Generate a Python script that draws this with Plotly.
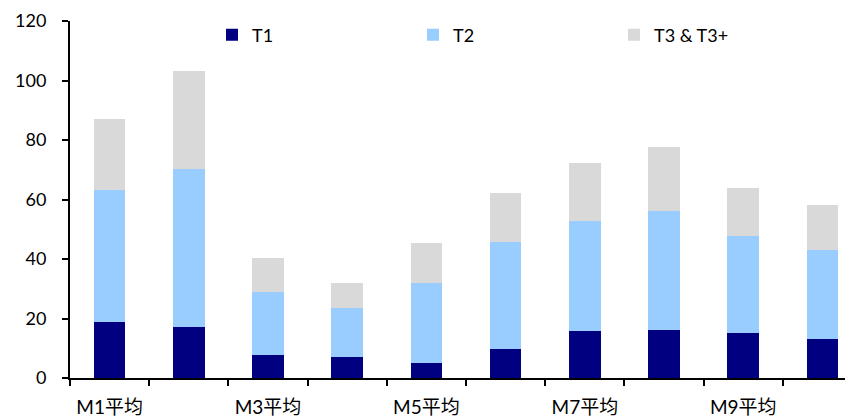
import plotly.graph_objects as go

# 读数（单位与原图一致）
categories = ["M1平均", "M2平均", "M3平均", "M4平均", "M5平均",
              "M6平均", "M7平均", "M8平均", "M9平均", "M10平均"]
tick_labels = ["M1平均", "", "M3平均", "", "M5平均", "", "M7平均", "", "M9平均", ""]
t1 = [18.7, 17.0, 7.7, 7.0, 5.0, 9.6, 15.7, 16.3, 15.1, 13.1]
t2 = [44.6, 53.1, 21.2, 16.4, 27.0, 36.0, 37.1, 39.8, 32.8, 29.8]
t3 = [23.7, 33.0, 11.5, 8.6, 13.4, 16.7, 19.5, 21.5, 15.9, 15.1]

FONT = "Lato, Noto Sans CJK SC, sans-serif"

fig = go.Figure()
for name, vals, color in [
    ("T1", t1, "#000080"),
    ("T2", t2, "#99CCFF"),
    ("T3 & T3+", t3, "#D9D9D9"),
]:
    fig.add_trace(
        go.Bar(
            x=categories,
            y=vals,
            name=name,
            width=0.4,
            marker=dict(color=color, line=dict(width=0)),
        )
    )

# 页面 body 有 8px 外边距，图本身缩小 8px
fig.update_layout(
    barmode="stack",
    width=845,
    height=409,
    plot_bgcolor="white",
    paper_bgcolor="white",
    font=dict(family=FONT, size=18, color="black"),
    margin=dict(l=62, r=0, t=13, b=39, autoexpand=False),
    showlegend=True,
    legend=dict(
        orientation="h",
        x=(204 - 62) / 783,
        xanchor="left",
        y=(370 - 27) / 357,
        yanchor="middle",
        entrywidth=156,
        entrywidthmode="pixels",
        itemwidth=30,
        font=dict(family=FONT, size=18),
        bgcolor="rgba(0,0,0,0)",
        traceorder="normal",
    ),
    xaxis=dict(
        type="category",
        range=[-0.5, 9.386],
        tickvals=categories,
        ticktext=tick_labels,
        tickson="boundaries",
        ticks="outside",
        ticklen=6,
        tickwidth=2,
        tickcolor="black",
        showline=True,
        linecolor="black",
        linewidth=2,
        showgrid=False,
        tickangle=0,
        ticklabelstandoff=11,
        tickfont=dict(family=FONT, size=19),
    ),
    yaxis=dict(
        range=[0, 120],
        dtick=20,
        ticks="outside",
        ticklen=6,
        tickwidth=2,
        tickcolor="black",
        showline=True,
        linecolor="black",
        linewidth=2,
        showgrid=False,
        zeroline=False,
        ticklabelstandoff=12,
        ticklabeloverflow="allow",
        tickfont=dict(family=FONT, size=18),
    ),
)

fig.write_html("out.html")
